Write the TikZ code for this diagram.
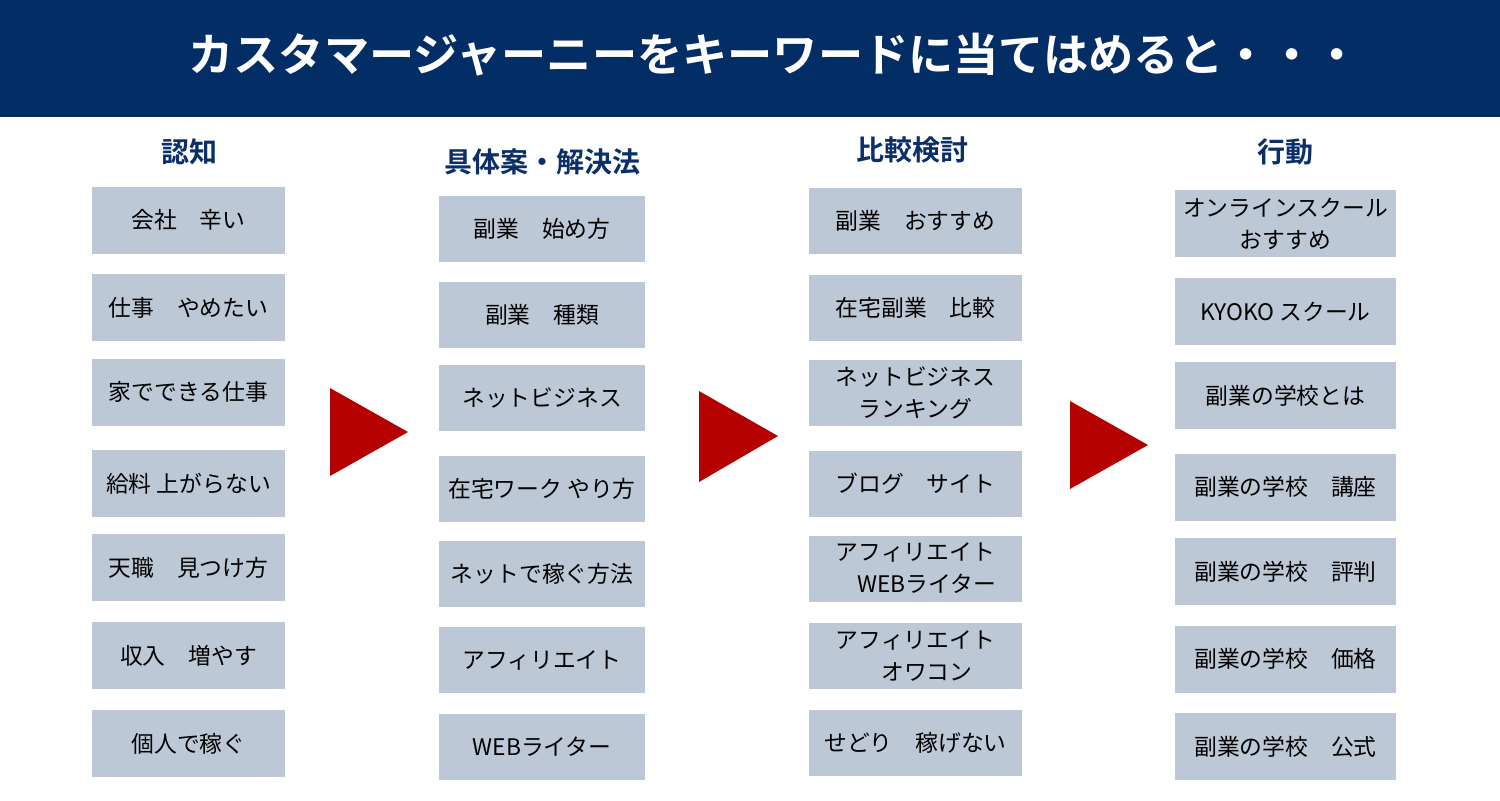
\documentclass[tikz,border=0pt]{standalone}
\usepackage{fontspec}
\setmainfont{Noto Sans CJK JP}
\newfontfamily\jpbold{Noto Sans CJK JP Bold}
\definecolor{navy}{HTML}{032D65}
\definecolor{headblue}{HTML}{0B3069}
\definecolor{boxgray}{HTML}{BDC8D6}
\definecolor{arrowred}{HTML}{B50000}
\begin{document}
\begin{tikzpicture}[x=0.5pt,y=-0.5pt,
  kw/.style={draw=none,fill=boxgray,inner sep=0pt,align=center,font=\fontsize{11.4}{16}\selectfont,text=black},
  c1/.style={kw,minimum width=96.5pt,minimum height=33.5pt},
  c2/.style={kw,minimum width=103pt,minimum height=33pt},
  c3/.style={kw,minimum width=106.5pt,minimum height=33pt},
  c4/.style={kw,minimum width=110.5pt,minimum height=33.5pt},
  heading/.style={font=\jpbold\fontsize{14}{16}\selectfont,text=headblue,inner sep=0pt},
  tri/.style={fill=arrowred,draw=none}]
\useasboundingbox (0,0) rectangle (1500,800);
\fill[white] (0,0) rectangle (1500,800);
\fill[navy] (0,0) rectangle (1500,117);
\node[font=\jpbold\fontsize{22.6}{24}\selectfont,text=white,inner sep=0pt] (title) at (774,55) {カスタマージャーニーをキーワードに当てはめると・・・};
% headings
\node[heading] (h1) at (189,152) {認知};
\node[heading] (h2) at (542,162) {具体案・解決法};
\node[heading] (h3) at (912,150) {比較検討};
\node[heading] (h4) at (1285,152) {行動};
% column 1
\node[c1] (a1) at (188.5,220) {会社　辛い};
\node[c1] (a2) at (188.5,307.5) {仕事　やめたい};
\node[c1] (a3) at (188.5,392) {家でできる仕事};
\node[c1] (a4) at (188.5,483.5) {給料 上がらない};
\node[c1] (a5) at (188.5,567.5) {天職　見つけ方};
\node[c1] (a6) at (188.5,655.5) {収入　増やす};
\node[c1] (a7) at (188.5,743.5) {個人で稼ぐ};
% column 2
\node[c2] (b1) at (542,229) {副業　始め方};
\node[c2] (b2) at (542,315) {副業　種類};
\node[c2] (b3) at (542,398) {ネットビジネス};
\node[c2] (b4) at (542,488.5) {在宅ワーク やり方};
\node[c2] (b5) at (542,574) {ネットで稼ぐ方法};
\node[c2] (b6) at (542,660) {アフィリエイト};
\node[c2] (b7) at (542,747) {WEBライター};
% column 3
\node[c3] (d1) at (915.5,221) {副業　おすすめ};
\node[c3] (d2) at (915.5,308) {在宅副業　比較};
\node[c3] (d3) at (915.5,392.5) {ネットビジネス\\ランキング};
\node[c3] (d4) at (915.5,484) {ブログ　サイト};
\node[c3] (d5) at (915.5,568.5) {アフィリエイト\\\hspace*{1em}WEBライター};
\node[c3] (d6) at (915.5,655.5) {アフィリエイト\\\hspace*{1em}オワコン};
\node[c3] (d7) at (915.5,743) {せどり　稼げない};
% column 4
\node[c4] (e1) at (1285.5,223.5) {オンラインスクール\\おすすめ};
\node[c4] (e2) at (1285.5,311.5) {KYOKO スクール};
\node[c4] (e3) at (1285.5,395.5) {副業の学校とは};
\node[c4] (e4) at (1285.5,487) {副業の学校　講座};
\node[c4] (e5) at (1285.5,571.5) {副業の学校　評判};
\node[c4] (e6) at (1285.5,659) {副業の学校　価格};
\node[c4] (e7) at (1285.5,746.5) {副業の学校　公式};
% arrows
\fill[tri] (330,388) -- (330,476) -- (408,432) -- cycle;
\fill[tri] (699,391) -- (699,482) -- (778,436) -- cycle;
\fill[tri] (1070,401) -- (1070,489) -- (1148,445) -- cycle;
\end{tikzpicture}
\end{document}
